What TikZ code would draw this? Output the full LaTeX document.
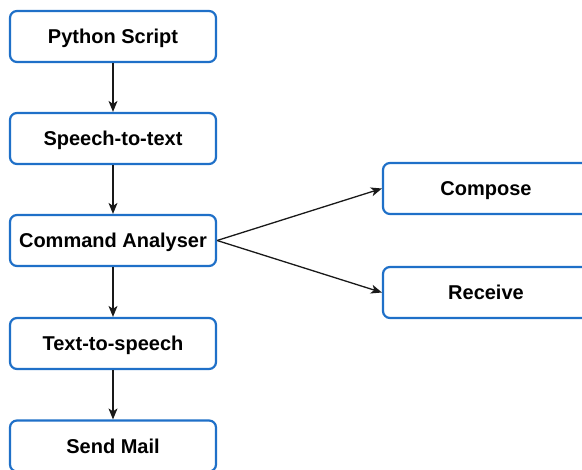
\documentclass[tikz,border=0pt]{standalone}
\usepackage{fontspec}
\setmainfont{Liberation Sans}
\usetikzlibrary{arrows.meta}
\definecolor{boxblue}{HTML}{1F70C8}
\tikzset{
  flowbox/.style={draw=boxblue, line width=2.2pt, rounded corners=7pt, fill=white,
    minimum width=206pt, minimum height=51pt, inner sep=0pt,
    text height=14.3pt, text depth=0pt,
    font=\fontsize{20}{22}\selectfont\bfseries, text=black},
  conn/.style={draw=black!90, line width=1.3pt, -{Stealth[length=11pt,width=9pt,inset=3pt]}}
}
\begin{document}
\begin{tikzpicture}[x=1pt,y=-1pt]
\useasboundingbox (0,0) rectangle (582,470);
\node[flowbox] (py) at (113,36.5) {Python Script};
\node[flowbox] (stt) at (113,138.5) {Speech-to-text};
\node[flowbox] (ca) at (113,240.5) {Command Analyser};
\node[flowbox] (tts) at (113,343.5) {Text-to-speech};
\node[flowbox] (sm) at (113,446) {Send Mail};
\node[flowbox] (co) at (486,188.5) {Compose};
\node[flowbox] (re) at (486,292.5) {Receive};
\draw[conn] (py) -- (stt);
\draw[conn] (stt) -- (ca);
\draw[conn] (ca) -- (tts);
\draw[conn] (tts) -- (sm);
\draw[conn] (ca.east) -- (co.west);
\draw[conn] (ca.east) -- (re.west);
\end{tikzpicture}
\end{document}
